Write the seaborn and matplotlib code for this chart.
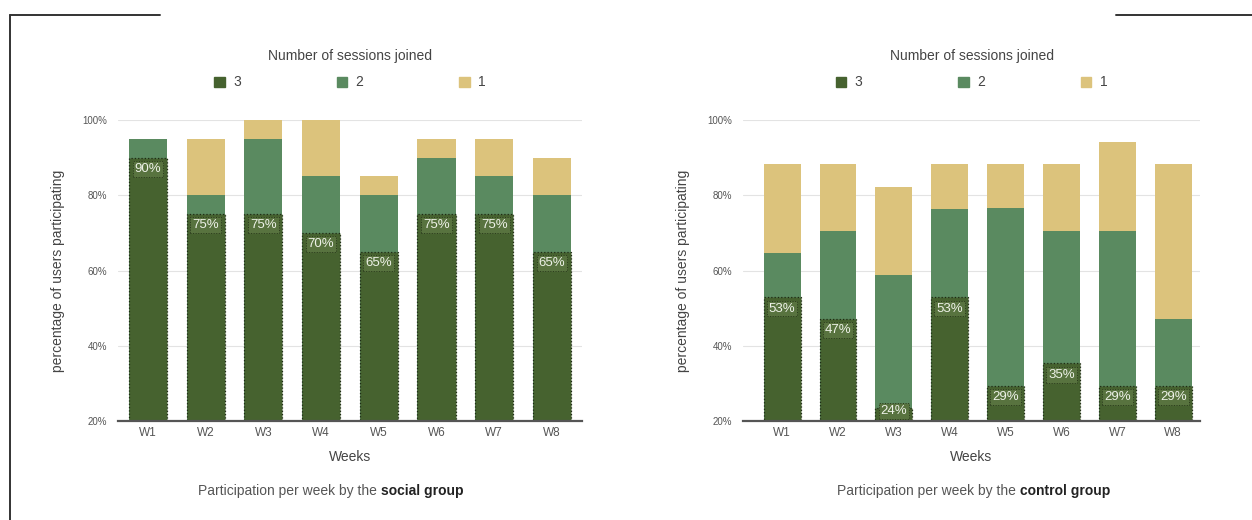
import numpy as np
import pandas as pd
import matplotlib.pyplot as plt
import seaborn as sns
from matplotlib.patches import Patch
from matplotlib.lines import Line2D

# data (percent of users per number of sessions joined)
weeks = ['W1', 'W2', 'W3', 'W4', 'W5', 'W6', 'W7', 'W8']
social_3 = [90, 75, 75, 70, 65, 75, 75, 65]
social_2 = [5, 5, 20, 15, 15, 15, 10, 15]
social_1 = [0, 15, 5, 15, 5, 5, 10, 10]
control_3 = [52.9, 47.1, 23.5, 52.9, 29.4, 35.3, 29.4, 29.4]
control_2 = [11.8, 23.5, 35.3, 23.5, 47.1, 35.3, 41.2, 17.6]
control_1 = [23.5, 17.6, 23.5, 11.8, 11.8, 17.6, 23.5, 41.2]
y_ticks = [20, 40, 60, 80, 100]

c3, c2, c1 = '#46622f', '#5a8a60', '#dcc37c'
txt = '#444444'

sns.set_theme(style='white')
plt.rcParams['font.family'] = ['Liberation Sans', 'DejaVu Sans']

fig = plt.figure(figsize=(12.52, 5.2), dpi=100)
ax1 = fig.add_axes([0.0942, 0.1904, 0.3706, 0.5788])
ax2 = fig.add_axes([0.5935, 0.1904, 0.3650, 0.5788])


def draw(ax, s3, s2, s1, group, xstart, xlim):
    df = pd.DataFrame({'week': weeks, 's3': s3, 's2': s2, 's1': s1})
    df['top2'] = df['s3'] + df['s2']
    df['top1'] = df['top2'] + df['s1']
    sns.barplot(data=df, x='week', y='top1', color=c1, saturation=1, width=0.66,
                linewidth=0, ax=ax)
    sns.barplot(data=df, x='week', y='top2', color=c2, saturation=1, width=0.66,
                linewidth=0, ax=ax)
    sns.barplot(data=df, x='week', y='s3', color=c3, saturation=1, width=0.66, ax=ax)
    for p in ax.patches[-len(weeks):]:
        p.set_edgecolor('#1e2a14')
        p.set_linestyle(':')
        p.set_linewidth(0.9)
    for i, v in enumerate(s3):
        ax.text(i, max(v - 3, 22.6), f'{round(v)}%', ha='center', va='center',
                fontsize=9.5, color='#eef2e8',
                bbox=dict(boxstyle='square,pad=0.15', fc='#58733f', ec='#2a3a1c',
                          ls=':', lw=0.7))
    ax.set_ylim(20, 100)
    ax.set_xlim(*xlim)
    ax.set_yticks(y_ticks)
    ax.set_yticklabels([f'{t}%' for t in y_ticks], fontsize=7, color='#555555')
    ax.tick_params(axis='x', labelsize=8.5, labelcolor='#555555', length=0, pad=4)
    ax.tick_params(axis='y', length=0, pad=8)
    ax.grid(axis='y', color='#e3e3e3', lw=0.8)
    ax.set_axisbelow(True)
    for s in ['top', 'right', 'left']:
        ax.spines[s].set_visible(False)
    ax.spines['bottom'].set_color('#555555')
    ax.spines['bottom'].set_linewidth(1.6)
    ax.set_xlabel('Weeks', fontsize=10, color=txt, labelpad=8)
    ax.set_ylabel('percentage of users participating', fontsize=10, color=txt, labelpad=12)
    handles = [Patch(color=c3, label='3'), Patch(color=c2, label='2'), Patch(color=c1, label='1')]
    leg = ax.legend(handles=handles, ncol=3, loc='lower center', bbox_to_anchor=(0.5, 1.06),
                    frameon=False, fontsize=10, title='Number of sessions joined',
                    title_fontsize=10, handlelength=0.75, handleheight=0.75,
                    handletextpad=0.6, columnspacing=6.9, labelcolor=txt)
    leg.get_title().set_color(txt)
    leg._legend_box.sep = 9
    # caption: regular text followed by bold group name
    t1 = fig.text(xstart, 0.056, 'Participation per week by the ', fontsize=10,
                  color='#555555', ha='left', va='center')
    ax.annotate(group, xy=(1, 0), xycoords=t1, va='bottom', ha='left',
                fontsize=10, fontweight='bold', color='#222222', annotation_clip=False)


draw(ax1, social_3, social_2, social_1, 'social group', 0.158, (-0.52, 7.52))
draw(ax2, control_3, control_2, control_1, 'control group', 0.6685, (-0.70, 7.48))

# screenshot frame lines
fig.add_artist(Line2D([0.008, 0.128], [0.971, 0.971], color='#333333', lw=1.4))
fig.add_artist(Line2D([0.008, 0.008], [0.971, 0.0], color='#333333', lw=1.4))
fig.add_artist(Line2D([0.891, 1.0], [0.971, 0.971], color='#333333', lw=1.4))

fig.savefig('out.png', dpi=100)
